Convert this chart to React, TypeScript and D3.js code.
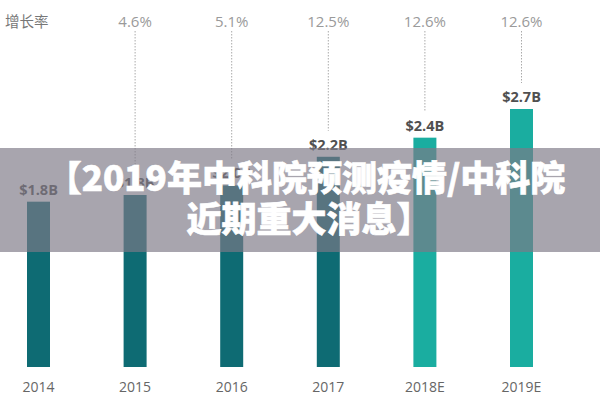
import React from "react";
import * as d3 from "d3";

const years = ["2014", "2015", "2016", "2017", "2018E", "2019E"];
const values = [1.73, 1.8, 1.9, 2.2, 2.4, 2.7];
const valueLabels = ["$1.8B", "$1.8B", "$2.0B", "$2.2B", "$2.4B", "$2.7B"];
const growth = ["", "4.6%", "5.1%", "12.5%", "12.6%", "12.6%"];
const estimated = [false, false, false, false, true, true];

const W = 600;
const H = 400;

export default function App() {
  const x = d3.scalePoint<string>().domain(years).range([38.5, 521.5]);
  const y = d3.scaleLinear().domain([0, 2.7]).range([367, 109]);
  const barW = 23;
  const font = "'Open Sans', 'Noto Sans', sans-serif";

  return (
    <svg
      width={W}
      height={H}
      style={{ position: "absolute", left: 0, top: 0, background: "#fff" }}
    >
      <text x={5} y={27} fontSize={14.5} fill="#777" fontFamily="'Noto Sans CJK SC', sans-serif">
        增长率
      </text>
      {years.map((yr, i) => {
        const cx = x(yr) as number;
        const top = y(values[i]);
        return (
          <g key={yr}>
            {growth[i] && (
              <>
                <text x={cx} y={27} textAnchor="middle" fontSize={15} fill="#9a9a9a" fontFamily={font}>
                  {growth[i]}
                </text>
                <line
                  x1={cx}
                  x2={cx}
                  y1={31}
                  y2={top - 26}
                  stroke="#aaa"
                  strokeWidth={1}
                  strokeDasharray="1.5,1.5"
                />
              </>
            )}
            <rect
              x={cx - barW / 2}
              y={top}
              width={barW}
              height={y(0) - top}
              fill={estimated[i] ? "#1aada0" : "#0e6b73"}
            />
            <text
              x={cx}
              y={top - 7}
              textAnchor="middle"
              fontSize={14.5}
              fontWeight="bold"
              fill="#505050"
              fontFamily={font}
            >
              {valueLabels[i]}
            </text>
            <text x={cx} y={392} textAnchor="middle" fontSize={14} fill="#666" fontFamily={font}>
              {yr}
            </text>
          </g>
        );
      })}
      <rect x={0} y={148} width={W} height={104} fill="rgb(125,121,134)" fillOpacity={0.67} />
      <g
        fontFamily="'Noto Sans CJK SC', sans-serif"
        fontWeight="900"
        fill="#fff"
        stroke="#fff"
        strokeWidth={0.6}
        fontSize={35}
        textAnchor="middle"
      >
        <text x={306} y={191}>【2019年中科院预测疫情/中科院</text>
        <text x={309} y={232}>近期重大消息】</text>
      </g>
    </svg>
  );
}
